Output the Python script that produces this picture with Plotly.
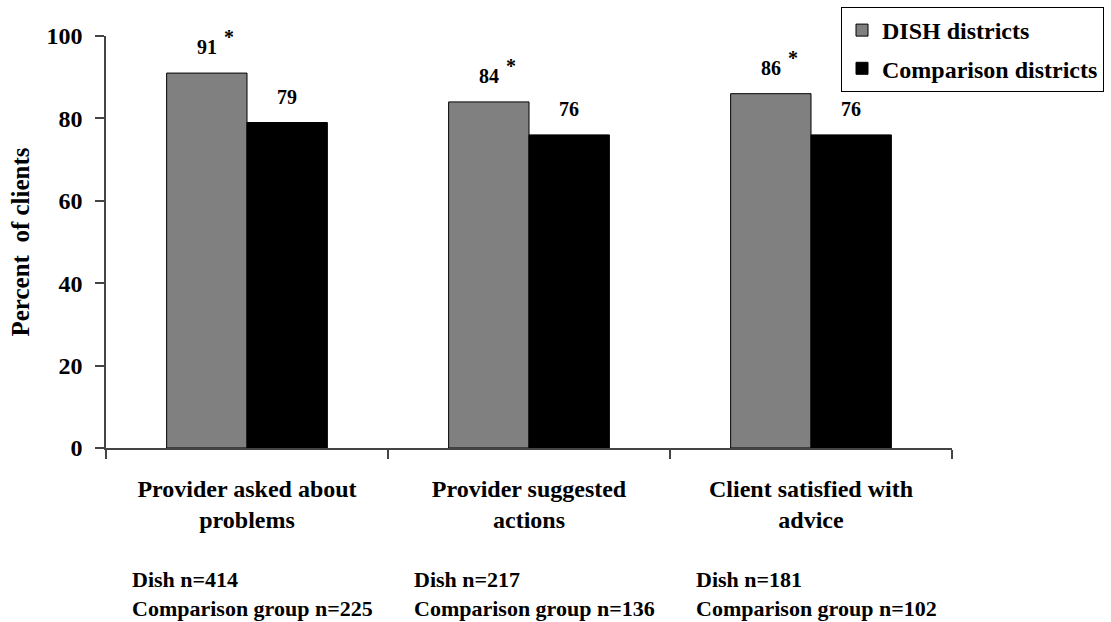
import plotly.graph_objects as go

# Survey results: share of clients (%) by district type
categories = ["Provider asked about<br>problems",
              "Provider suggested<br>actions",
              "Client satisfied with<br>advice"]
dish_values = [91, 84, 86]
comparison_values = [79, 76, 76]
significant = [True, True, True]
dish_n = [414, 217, 181]
comparison_n = [225, 136, 102]
y_ticks = [0, 20, 40, 60, 80, 100]

FONT = "Liberation Serif"
BARGAP = 0.43
bar_w = (1 - BARGAP) / 2

fig = go.Figure()
fig.add_trace(go.Bar(
    x=categories, y=dish_values, name="DISH districts",
    marker=dict(color="#808080", line=dict(color="#000000", width=1)),
    legendgroup="dish",
))
fig.add_trace(go.Bar(
    x=categories, y=comparison_values, name="Comparison districts",
    marker=dict(color="#000000", line=dict(color="#000000", width=1)),
    legendgroup="comp",
))

annotations = []
for i, (d, c, sig) in enumerate(zip(dish_values, comparison_values, significant)):
    annotations.append(dict(x=i - bar_w / 2, y=d, text=f"<b>{d}</b>", showarrow=False,
                            yanchor="bottom", yshift=13,
                            font=dict(family=FONT, size=20, color="black")))
    annotations.append(dict(x=i + bar_w / 2, y=c, text=f"<b>{c}</b>", showarrow=False,
                            yanchor="bottom", yshift=13,
                            font=dict(family=FONT, size=20, color="black")))
    if sig:
        annotations.append(dict(x=i - bar_w / 2, y=d, text="<b>*</b>", showarrow=False,
                                yanchor="bottom", yshift=23, xshift=22,
                                font=dict(family=FONT, size=20, color="black")))
    annotations.append(dict(x=i - 0.5, xref="x", y=0, yref="paper",
                            text=f"<b>Dish n={dish_n[i]}<br>Comparison group n={comparison_n[i]}</b>",
                            showarrow=False, xanchor="left", yanchor="middle", align="left",
                            xshift=24, yshift=-146,
                            font=dict(family=FONT, size=22, color="black")))

fig.update_layout(
    width=1111, height=622,
    margin=dict(l=106, r=159, t=36, b=174, autoexpand=False),
    paper_bgcolor="white", plot_bgcolor="white",
    barmode="group", bargap=BARGAP, bargroupgap=0,
    font=dict(family=FONT, color="black"),
    showlegend=True,
    legend=dict(x=0.8688, y=1.0704, xanchor="left", yanchor="top",
                bordercolor="black", borderwidth=1, bgcolor="white",
                font=dict(family=FONT, size=24, color="black", weight="bold"),
                traceorder="grouped", tracegroupgap=4, itemwidth=30),
    annotations=annotations,
)
fig.update_xaxes(
    type="category", showline=True, linecolor="#444444", linewidth=1.5,
    ticks="outside", tickson="boundaries", ticklen=9, tickcolor="#444444", tickwidth=1.5,
    tickfont=dict(family=FONT, size=24, color="black", weight="bold"),
    ticklabelstandoff=18, showgrid=False, zeroline=False,
)
fig.update_yaxes(
    range=[0, 100], tickvals=y_ticks, showline=True, linecolor="#444444", linewidth=1.5,
    ticks="outside", ticklen=9, tickcolor="#444444", tickwidth=1.5,
    tickfont=dict(family=FONT, size=24, color="black", weight="bold"),
    ticklabelstandoff=8, showgrid=False, zeroline=False,
    title=dict(text="<b>Percent  of clients</b>", standoff=10,
               font=dict(family=FONT, size=25, color="black")),
)

fig.write_html("out.html")
